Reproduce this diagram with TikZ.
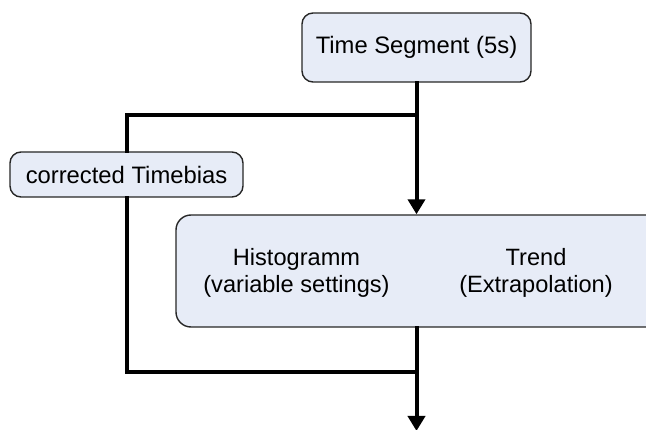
\documentclass[tikz,border=0pt]{standalone}
\usepackage{fontspec}
\setmainfont{Liberation Sans}
\usetikzlibrary{arrows.meta}
\definecolor{boxfill}{HTML}{E7ECF7}
\begin{document}
\begin{tikzpicture}[x=1pt,y=-1pt,
  box/.style={draw=black!85, line width=1.4pt, fill=boxfill, rounded corners=11pt,
    inner sep=0pt, font=\fontsize{23.8}{31}\selectfont},
  label/.style={inner sep=0pt, align=center, font=\fontsize{23.6}{26.5}\selectfont},
  conn/.style={line width=4pt, line cap=rect},
  arrow/.style={conn, -{Triangle[width=17pt,length=15pt]}}]
  \useasboundingbox (0,0) rectangle (646,430);
  \clip (0,0) rectangle (646,430);

  % boxes
  \node[box, minimum width=229pt, minimum height=69pt] (ts) at (416.5,47.5) {Time Segment (5s)};
  \node[box, minimum width=233pt, minimum height=45pt] (tb) at (126.5,174.5) {corrected Timebias};
  \node[box, rounded corners=15pt, minimum width=494pt, minimum height=112pt] (proc) at (423,271) {};
  \node[label] (hist) at (296.5,273) {Histogramm\\(variable settings)};
  \node[label] (trend) at (536,273) {Trend\\(Extrapolation)};

  % junction points
  \coordinate (split) at (ts.south |- 0,115);
  \coordinate (lefttop) at (tb.north |- split);
  \coordinate (leftbot) at (tb.south |- 0,372);
  \coordinate (join) at (ts.south |- leftbot);
  \coordinate (out) at (ts.south |- 0,431);

  % connectors
  \draw[conn] (ts.south) -- (split);
  \draw[arrow] (split) -- (ts.south |- proc.north);
  \draw[conn] (split) -- (lefttop) -- (tb.north);
  \draw[conn] (tb.south) -- (leftbot) -- (join);
  \draw[conn] (ts.south |- proc.south) -- (join);
  \draw[arrow] (join) -- (out);
\end{tikzpicture}
\end{document}
